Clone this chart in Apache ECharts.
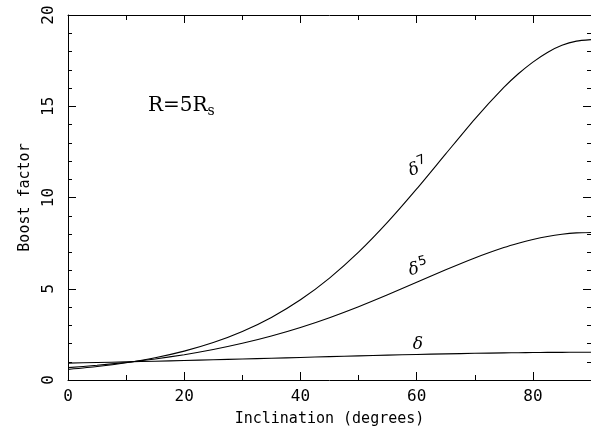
<!DOCTYPE html>
<html>
<head>
<meta charset="utf-8">
<script src="https://cdn.jsdelivr.net/npm/echarts@6/dist/echarts.min.js"></script>
<style>html,body{margin:0;padding:0;background:#fff}#c{width:591px;height:432px}</style>
</head>
<body>
<div id="c"></div>
<script>
// Inclination (degrees)
const inclination = [0,5,10,15,20,25,30,35,40,45,50,55,60,65,70,75,77.5,80,82.5,85,87.5,90];
// Boost factor curves
const delta1 = [0.925,0.958,0.992,1.029,1.068,1.108,1.150,1.192,1.236,1.279,1.321,1.361,1.399,1.433,1.462,1.486,1.496,1.504,1.511,1.515,1.518,1.519];
const delta5 = [0.677,0.805,0.962,1.154,1.388,1.671,2.010,2.411,2.879,3.416,4.015,4.669,5.352,6.037,6.686,7.256,7.496,7.700,7.866,7.986,8.060,8.084];
const delta7 = [0.579,0.738,0.948,1.222,1.583,2.051,2.657,3.427,4.394,5.584,7.002,8.646,10.468,12.39,14.30,16.03,16.78,17.42,17.95,18.34,18.57,18.65];
const xTicks = [0,20,40,60,80];
const yTicks = [0,5,10,15,20];

const mono = '"DejaVu Sans Mono", "Liberation Mono", monospace';
const pair = a => inclination.map((x,i)=>[x,a[i]]);

function lineSeries(name, arr, lab) {
  return {
    name, type:'line', data: pair(arr), xAxisIndex:0, yAxisIndex:0,
    showSymbol:false, smooth:0.2,
    lineStyle:{color:'#000', width:1.1}, silent:true,
    markPoint:{
      symbol:'circle', symbolSize:0, silent:true,
      data:[{coord:[lab.x, lab.y], value:0}],
      label:{show:true, position:'inside', rotate:lab.rot, color:'#000',
        formatter: lab.sup ? '{d|δ}{s|' + lab.sup + '}' : '{d|δ}',
        rich:{
          d:{fontFamily:'"DejaVu Serif", serif', fontStyle:'italic', fontSize:17, color:'#000'},
          s:{fontFamily:'"DejaVu Sans", sans-serif', fontSize:13, color:'#000', verticalAlign:'top', padding:[0,0,12,1]}
        }}
    }
  };
}

const axisCommon = {
  min:0, axisLine:{show:true, onZero:false, lineStyle:{color:'#000', width:1}},
  axisTick:{show:true, inside:true, length:8, lineStyle:{color:'#000', width:1}},
  splitLine:{show:false}, minorSplitLine:{show:false}
};

const chart = echarts.init(document.getElementById('c'), null, {renderer:'canvas'});
chart.setOption({
  animation:false,
  backgroundColor:'#fff',
  grid:{left:68, top:15, width:523, height:370, containLabel:false},
  xAxis:[
    Object.assign({}, axisCommon, {type:'value', position:'bottom', max:90, interval:20,
      minorTick:{show:true, splitNumber:2, length:5, lineStyle:{color:'#000'}},
      name:'Inclination (degrees)', nameLocation:'middle', nameGap:32,
      nameTextStyle:{fontFamily:mono, fontSize:15, color:'#000'},
      axisLabel:{show:true, margin:9, color:'#000', fontFamily:mono, fontSize:16, showMaxLabel:false,
        formatter:v=> xTicks.includes(v)? String(v):''}}),
    Object.assign({}, axisCommon, {type:'value', position:'top', max:90, interval:20,
      minorTick:{show:true, splitNumber:2, length:5, lineStyle:{color:'#000'}},
      axisLabel:{show:false}})
  ],
  yAxis:[
    Object.assign({}, axisCommon, {type:'value', position:'left', max:20, interval:5,
      minorTick:{show:true, splitNumber:5, length:4, lineStyle:{color:'#000'}},
      name:'Boost factor', nameLocation:'middle', nameGap:34, nameRotate:90,
      nameTextStyle:{fontFamily:mono, fontSize:15, color:'#000'},
      axisLabel:{show:true, rotate:90, margin:11, color:'#000', fontFamily:mono, fontSize:16,
        formatter:v=> yTicks.includes(v)? String(v):''}}),
    Object.assign({}, axisCommon, {type:'value', position:'right', max:20, interval:5,
      minorTick:{show:true, splitNumber:5, length:4, lineStyle:{color:'#000'}},
      axisLabel:{show:false}})
  ],
  graphic:[{
    type:'text', left:148, top:96,
    style:{
      text:'{a|R=5R}{b|s}',
      rich:{
        a:{fontFamily:'"DejaVu Serif", serif', fontSize:20, fill:'#000'},
        b:{fontFamily:'"DejaVu Serif", serif', fontSize:14, fill:'#000', padding:[10,0,0,0]}
      }
    }
  }],
  series:[
    lineSeries('delta7', delta7, {x:60.3, y:11.6, rot:22, sup:'7'}),
    lineSeries('delta5', delta5, {x:60.3, y:6.1, rot:14, sup:'5'}),
    lineSeries('delta', delta1, {x:60.2, y:1.95, rot:0, sup:''})
  ]
});
</script>
</body>
</html>
